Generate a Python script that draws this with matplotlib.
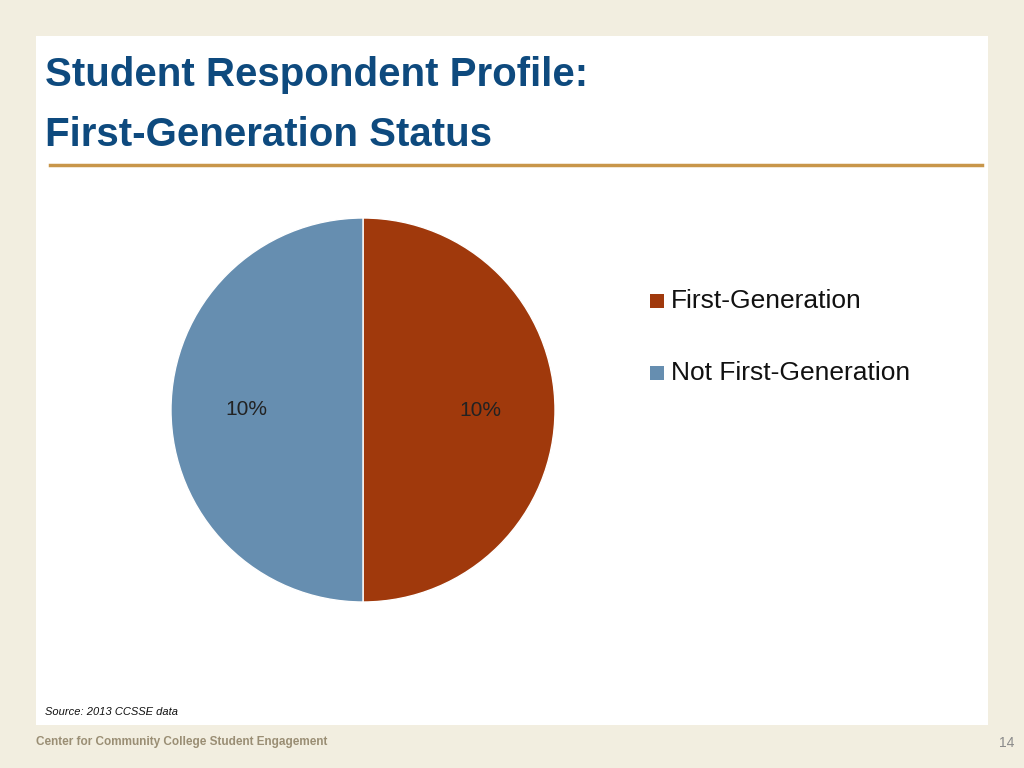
import matplotlib
matplotlib.use("Agg")
import matplotlib.pyplot as plt
from matplotlib.patches import Rectangle
from matplotlib.lines import Line2D

categories = ["First-Generation", "Not First-Generation"]
values = [50, 50]
pct_labels = ["10%", "10%"]
colors = ["#A0390C", "#668EB0"]

W, H = 1024, 768
fig = plt.figure(figsize=(10.24, 7.68), dpi=100, facecolor="#F2EEE0")

def fx(x): return x / W
def fy(y): return 1 - y / H

fig.patches.append(Rectangle((fx(36), fy(725)), fx(988) - fx(36), fy(36) - fy(725),
                             transform=fig.transFigure, facecolor="white", edgecolor="none", zorder=-5))
fig.lines.append(Line2D([fx(50), fx(982)], [fy(165), fy(165)], transform=fig.transFigure,
                        color="#C8964A", lw=2.5))

tfont = dict(family="Liberation Sans", weight="bold", color="#0E4A7E", fontsize=29)
fig.text(fx(45), fy(75), "Student Respondent Profile:", va="center", ha="left", **tfont)
fig.text(fx(45), fy(135), "First-Generation Status", va="center", ha="left", **tfont)

ax = fig.add_axes([fx(171), fy(602), 384 / W, 384 / H], zorder=5)
ax.patch.set_alpha(0)
wedges, texts = ax.pie(values, colors=colors, startangle=90, counterclock=False,
                       labels=pct_labels, labeldistance=0.5,
                       wedgeprops=dict(edgecolor="white", linewidth=1),
                       textprops=dict(fontsize=15, color="#222222", family="Liberation Sans"))
ax.set_xlim(-1, 1); ax.set_ylim(-1, 1)
ax.set_aspect("equal")

for i, (cat, col) in enumerate(zip(categories, colors)):
    y = 301 + 72 * i
    fig.patches.append(Rectangle((fx(650), fy(y + 7)), 14 / W, 14 / H, transform=fig.transFigure,
                                 facecolor=col, edgecolor="none"))
    fig.text(fx(671), fy(y), cat, va="center", ha="left", fontsize=19,
             family="Liberation Sans", color="#111111")

fig.text(fx(45), fy(712), "Source: 2013 CCSSE data", fontsize=8, style="italic",
         family="Liberation Sans", va="center", ha="left", color="#111111")
fig.text(fx(36), fy(742), "Center for Community College Student Engagement", fontsize=8.5,
         weight="bold", family="Liberation Sans", color="#9A8E74", va="center", ha="left")
fig.text(fx(1014), fy(743), "14", fontsize=10, family="Liberation Sans", color="#8A8A8A",
         va="center", ha="right")

fig.savefig("out.png", dpi=100, facecolor=fig.get_facecolor())
